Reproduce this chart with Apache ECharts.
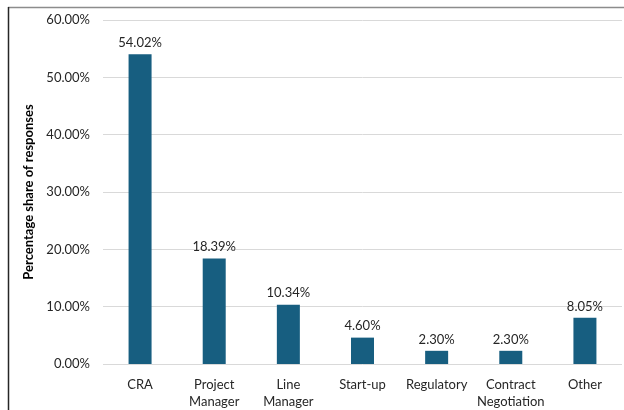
<!DOCTYPE html>
<html><head><meta charset="utf-8">
<script src="https://cdn.jsdelivr.net/npm/echarts@6/dist/echarts.min.js"></script>
<style>html,body{margin:0;padding:0;background:#fff}#c{width:624px;height:410px}</style>
</head><body><div id="c"></div>
<script>
const categories = ['CRA', 'Project\nManager', 'Line\nManager', 'Start-up', 'Regulatory', 'Contract\nNegotiation', 'Other'];
const values = [54.02, 18.39, 10.34, 4.60, 2.30, 2.30, 8.05];
const yTicks = [0, 10, 20, 30, 40, 50, 60];
const yAxisName = 'Percentage share of responses';

const chart = echarts.init(document.getElementById('c'), null, {renderer: 'canvas'});
const font = 'Lato, "Open Sans", sans-serif';
chart.setOption({
  animation: false,
  textStyle: {fontFamily: font},
  grid: {left: 103, right: 2, top: 20, bottom: 42, containLabel: false},
  xAxis: {
    type: 'category', data: categories,
    axisLine: {show: false}, axisTick: {show: false},
    axisLabel: {color: '#262626', fontSize: 13, fontFamily: font, margin: 12, lineHeight: 17, interval: 0}
  },
  yAxis: {
    type: 'value', min: yTicks[0], max: yTicks[yTicks.length - 1], interval: 10,
    name: yAxisName, nameLocation: 'middle', nameGap: 67,
    nameTextStyle: {fontWeight: 'bold', fontSize: 13, color: '#000', fontFamily: font},
    axisLabel: {formatter: v => v.toFixed(2) + '%', color: '#262626', fontSize: 13, fontFamily: font, margin: 13},
    splitLine: {lineStyle: {color: '#d9d9d9', width: 1}},
    axisLine: {show: false}, axisTick: {show: false}
  },
  series: [{
    type: 'bar', data: values, barWidth: 23,
    itemStyle: {color: '#175E80'},
    label: {show: true, position: 'top', formatter: p => p.value.toFixed(2) + '%', color: '#262626', fontSize: 13, fontFamily: font, distance: 5}
  }],
  graphic: [
    {type: 'line', shape: {x1: 8, y1: 7.5, x2: 624, y2: 7.5}, style: {stroke: '#8c8c8c', lineWidth: 1.5}, silent: true},
    {type: 'line', shape: {x1: 8.5, y1: 7, x2: 8.5, y2: 410}, style: {stroke: '#262626', lineWidth: 1.5}, silent: true}
  ]
});
</script></body></html>
